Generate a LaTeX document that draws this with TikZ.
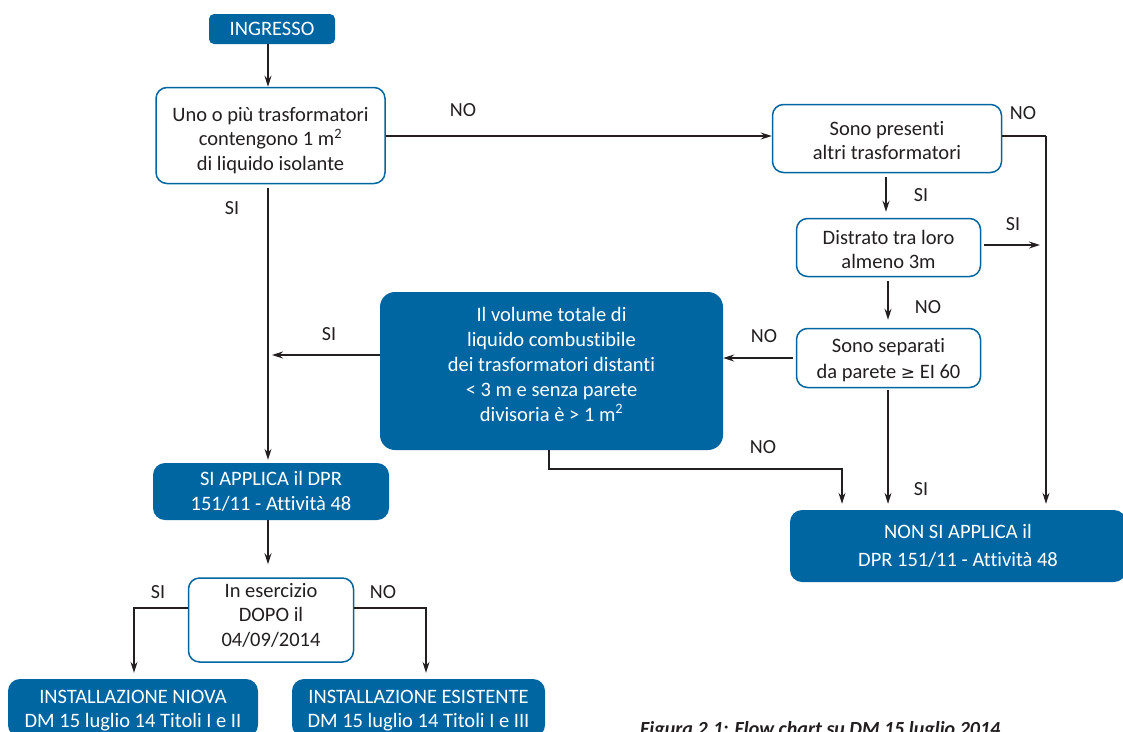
\documentclass[tikz,border=0pt]{standalone}
\usepackage{fontspec}
\setmainfont[Ligatures=NoCommon]{Carlito}
\newfontfamily\symfont{DejaVu Sans}
\usetikzlibrary{arrows.meta}
\definecolor{fcblue}{RGB}{0,102,161}
\definecolor{fctext}{RGB}{35,31,32}
\newcommand{\upstrut}[1]{\rule{0pt}{#1}}
\newcommand{\dnstrut}[1]{\rule[-#1]{0pt}{#1}}
\tikzset{
  box/.style={draw=fcblue, line width=1.5pt, fill=white, rounded corners=11pt, align=center,
    text=fctext, font=\fontsize{20.5}{24.5}\selectfont, inner sep=0pt},
  fbox/.style={fill=fcblue, rounded corners=12pt, align=center, text=white,
    font=\fontsize{20.5}{24.5}\selectfont, inner sep=0pt},
  conn/.style={draw=fctext, line width=1.3pt},
  arr/.style={conn, -{Stealth[length=11pt,width=7pt]}},
  lbl/.style={text=fctext, font=\fontsize{20}{22}\selectfont, inner sep=0pt}
}
\begin{document}
\begin{tikzpicture}[x=1pt,y=-1pt]
\useasboundingbox (0,0) rectangle (1123,731);
\clip (0,0) rectangle (1123,731);
\fill[white] (0,0) rectangle (1123,731);

% nodes
\node[fbox, rounded corners=5pt, minimum width=126pt, minimum height=30pt] (ing) at (272,29) {INGRESSO};
\node[box, minimum width=229pt, minimum height=96pt] (q1) at (270.5,135.5) {\upstrut{24pt}Uno o più trasformatori\\contengono 1 m\textsuperscript{2}\\di liquido isolante};
\node[box, minimum width=229pt, minimum height=68pt] (q2) at (887,138.5) {\upstrut{18pt}Sono presenti\\altri trasformatori};
\node[box, minimum width=184pt, minimum height=58pt] (q3) at (888.5,247.5) {\upstrut{18pt}Distrato tra loro\\almeno 3m};
\node[box, minimum width=184pt, minimum height=59pt, font=\fontsize{20.5}{26}\selectfont] (q4) at (888.5,358) {\upstrut{18pt}Sono separati\\da parete {\symfont\fontsize{17}{20}\selectfont ≥} EI 60};
\node[fbox, rounded corners=15pt, minimum width=343pt, minimum height=158pt, font=\fontsize{20.5}{25}\selectfont] (vol) at (551.5,371) {Il volume totale di\\liquido combustibile\\dei trasformatori distanti\\< 3 m e senza parete\\divisoria è > 1 m\textsuperscript{2}\dnstrut{14pt}};
\node[fbox, minimum width=236pt, minimum height=57pt] (si) at (271,491.5) {SI APPLICA il DPR\\151/11 - Attività 48};
\node[fbox, minimum width=336pt, minimum height=72pt, font=\fontsize{20.5}{27.5}\selectfont] (non) at (958,546) {NON SI APPLICA il\\DPR 151/11 - Attività 48};
\node[box, minimum width=165pt, minimum height=84pt] (q5) at (271,620) {In esercizio\\DOPO il\\04/09/2014\dnstrut{11pt}};
\node[fbox, minimum width=250pt, minimum height=58pt] (niova) at (133,708) {\upstrut{18pt}INSTALLAZIONE NIOVA\\DM 15 luglio 14 Titoli I e II};
\node[fbox, minimum width=253pt, minimum height=58pt] (esist) at (418.5,708) {\upstrut{18pt}INSTALLAZIONE ESISTENTE\\DM 15 luglio 14 Titoli I e III};

% coordinates
\coordinate (rightrail) at (1046,136);
\coordinate (q3end) at (1040,245);
\coordinate (mainline) at (268,355);
\coordinate (volbot) at (549,0);
\coordinate (nonin) at (842,0);
\coordinate (nonmid) at (888,0);
\coordinate (leftdrop) at (134,0);
\coordinate (rightdrop) at (426,0);

% connectors
\draw[arr] (ing.south -| 268,0) -- (q1.north -| 268,0);
\draw[arr] (q1.east |- 0,136) -- (q2.west |- 0,136);
\draw[conn] (q2.east |- rightrail) -- (rightrail);
\draw[arr] (rightrail) -- ([yshift=6pt]non.north -| rightrail);
\draw[arr] ([yshift=-4pt]q2.south -| 886,0) -- ([yshift=6pt]q3.north -| 886,0);
\draw[arr] ([xshift=3pt]q3.east |- q3end) -- (q3end);
\draw[arr] ([yshift=-4pt]q3.south -| 888,0) -- ([yshift=8pt]q4.north -| 888,0);
\draw[arr] ([xshift=-3pt]q4.west) -- (vol.east |- q4.west);
\draw[arr] (vol.west |- mainline) -- ([xshift=4pt]mainline);
\draw[arr] ([yshift=-4pt]q1.south -| 268,0) -- ([yshift=3pt]si.north -| 268,0);
\draw[arr] (vol.south -| volbot) |- (0,469 -| nonin) -- ([yshift=6pt]non.north -| nonin);
\draw[arr] ([yshift=-2pt]q4.south -| nonmid) -- ([yshift=6pt]non.north -| nonmid);
\draw[arr] (si.south -| 268,0) -- ([yshift=13pt]q5.north -| 268,0);
\draw[arr] (q5.west |- 0,608) -| ([yshift=6pt]niova.north -| leftdrop);
\draw[arr] (q5.east |- 0,608) -| ([yshift=6pt]esist.north -| rightdrop);

% labels
\node[lbl] (l1) at (463,110) {NO};
\node[lbl] (l2) at (1023,113) {NO};
\node[lbl] (l3) at (921,195) {SI};
\node[lbl] (l4) at (1013,224) {SI};
\node[lbl] (l5) at (928,307) {NO};
\node[lbl] (l6) at (764,336) {NO};
\node[lbl] (l7) at (329,334) {SI};
\node[lbl] (l8) at (232,208) {SI};
\node[lbl] (l9) at (763,447) {NO};
\node[lbl] (l10) at (921,489) {SI};
\node[lbl] (l11) at (158,592) {SI};
\node[lbl] (l12) at (383,592) {NO};

% caption (cut by the page edge, as in the reference)
\node[text=fctext, font=\fontsize{20}{22}\selectfont\bfseries\itshape, anchor=base west, inner sep=0pt] (cap) at (640,735) {Figura 2.1: Flow chart su DM 15 luglio 2014};
\end{tikzpicture}
\end{document}
